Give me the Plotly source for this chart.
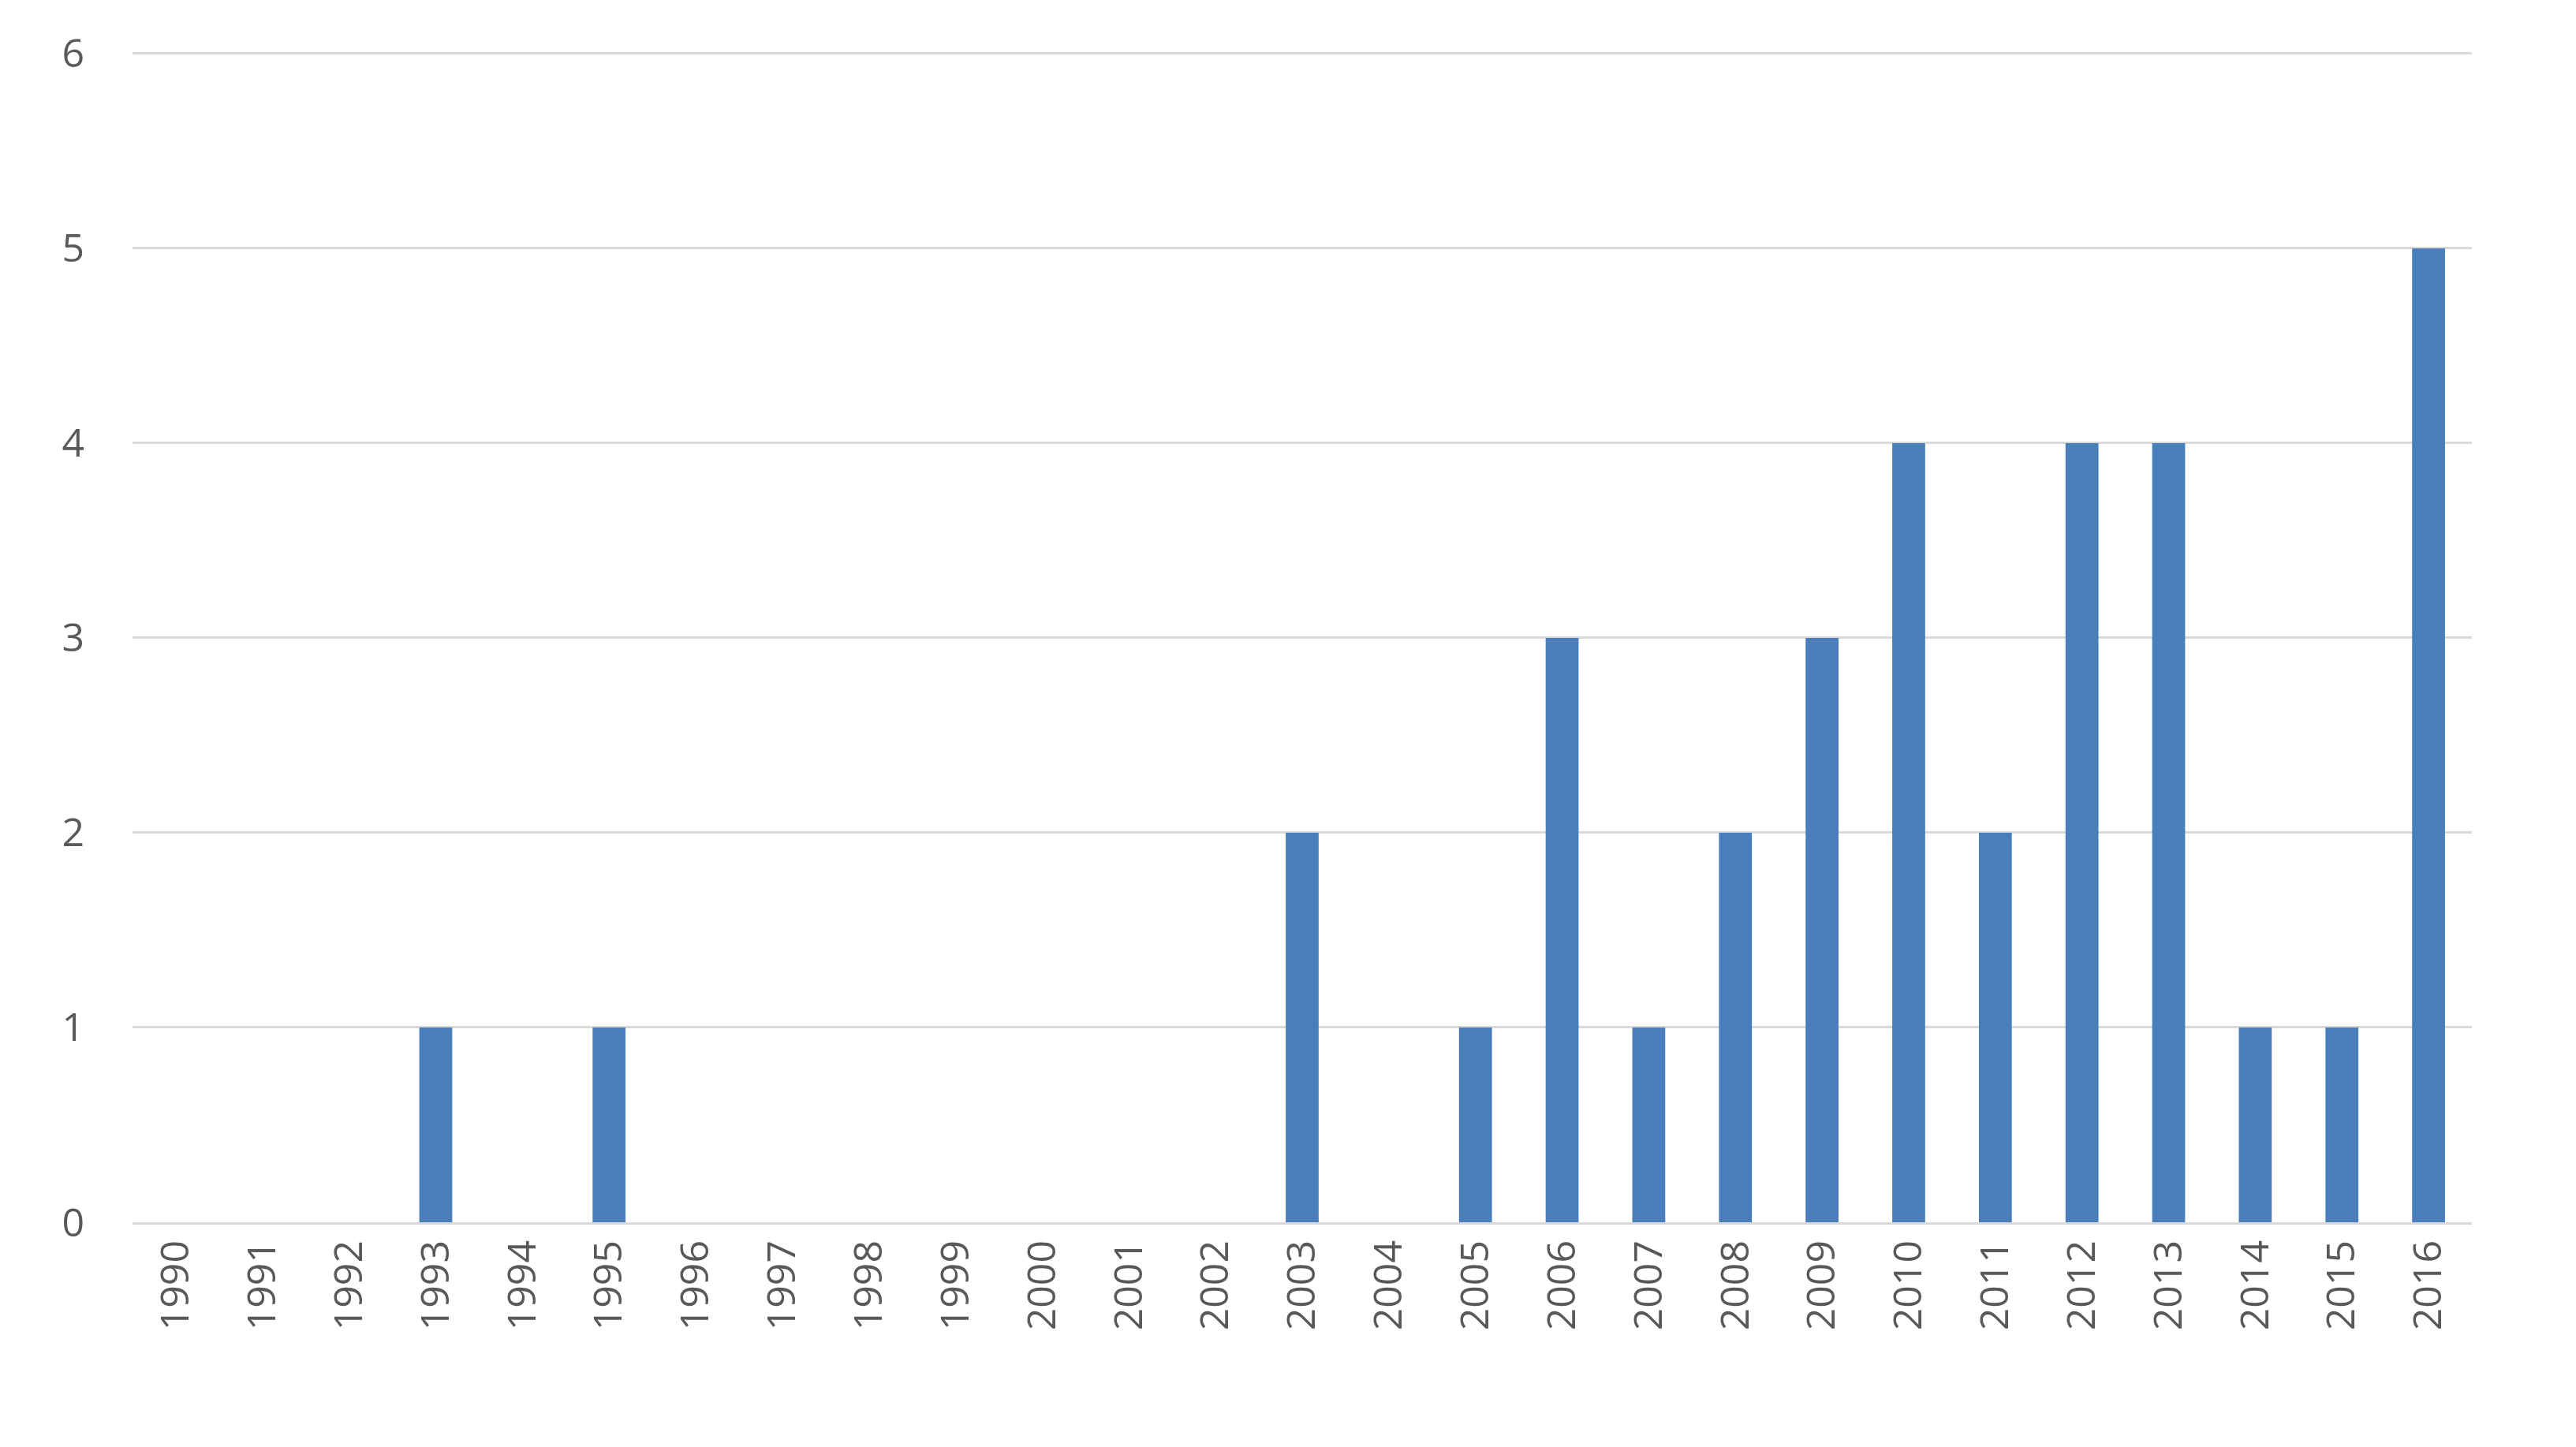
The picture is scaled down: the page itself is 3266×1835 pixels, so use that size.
import plotly.graph_objects as go

years = [str(y) for y in range(1990, 2017)]
counts = [0, 0, 0, 1, 0, 1, 0, 0, 0, 0, 0, 0, 0, 2, 0, 1, 3, 1, 2, 3, 4, 2, 4, 4, 1, 1, 5]

fig = go.Figure(
    go.Bar(x=years, y=counts, marker={"color": "#4A7EBB", "line": {"width": 0}})
)
fig.update_layout(
    width=3266,
    height=1835,
    margin={"l": 160, "r": 140, "t": 55, "b": 293},
    paper_bgcolor="white",
    plot_bgcolor="white",
    bargap=0.62,
    showlegend=False,
    font={"family": "Open Sans, Arial, sans-serif", "size": 50, "color": "#595959"},
)
fig.update_xaxes(
    type="category",
    tickangle=-90,
    showline=True,
    linecolor="#D9D9D9",
    linewidth=3,
    ticks="",
)
fig.update_yaxes(
    range=[0, 6.02],
    tickvals=[0, 1, 2, 3, 4, 5, 6],
    showgrid=True,
    gridcolor="#D9D9D9",
    gridwidth=3,
    zeroline=False,
    ticklabelstandoff=60,
)
fig.write_html("out.html")
